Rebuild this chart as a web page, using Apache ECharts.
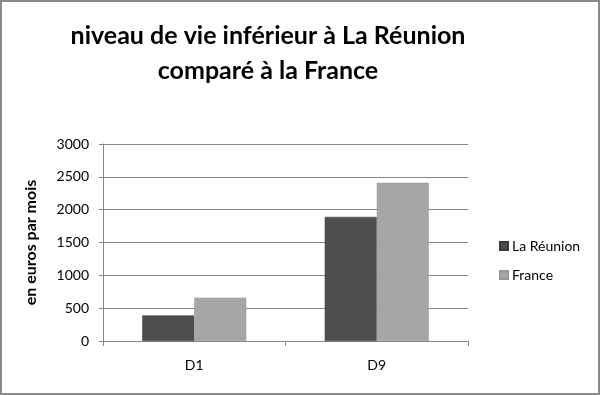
<!DOCTYPE html>
<html><head><meta charset="utf-8">
<script src="https://cdn.jsdelivr.net/npm/echarts@6/dist/echarts.min.js"></script>
<style>html,body{margin:0;padding:0;background:#fff}#c{width:600px;height:395px;box-sizing:border-box;border:2px solid #8a8a8a}</style>
</head><body><div id="c"></div>
<script>
const categories = ['D1', 'D9'];
const reunion = [390, 1890];
const france = [660, 2410];
const seriesNames = ['La Réunion', 'France'];
const titleText = 'niveau de vie inférieur à La Réunion\ncomparé à la France';
const yAxisName = 'en euros par mois';

const chart = echarts.init(document.getElementById('c'), null, {renderer: 'canvas'});
const font = 'Lato';
chart.setOption({
  animation: false,
  backgroundColor: '#fff',
  title: {
    text: titleText, left: 261, textAlign: 'center', top: 11,
    textStyle: {fontFamily: font, fontWeight: 'bold', fontSize: 25, lineHeight: 35, color: '#000'}
  },
  legend: {
    orient: 'vertical', left: 492, top: 232, itemGap: 15,
    itemWidth: 8, itemHeight: 8, icon: 'rect',
    textStyle: {fontFamily: font, fontSize: 14, color: '#000', padding: [0, 0, 0, -1]},
    data: seriesNames
  },
  grid: {left: 101, right: 130, top: 142, bottom: 52, containLabel: false},
  xAxis: {
    type: 'category', data: categories,
    axisLine: {lineStyle: {color: '#868686'}},
    axisTick: {show: true, length: 5, lineStyle: {color: '#868686'}},
    axisLabel: {fontFamily: font, fontSize: 14, color: '#000', margin: 17}
  },
  yAxis: {
    type: 'value', min: 0, max: 3000, interval: 500,
    name: yAxisName, nameLocation: 'middle', nameGap: 64, nameRotate: 90,
    nameTextStyle: {fontFamily: font, fontSize: 16, fontWeight: 'bold', color: '#000'},
    axisLine: {show: true, lineStyle: {color: '#868686'}},
    axisTick: {show: true, length: 4, lineStyle: {color: '#868686'}},
    axisLabel: {fontFamily: font, fontSize: 14, color: '#000', margin: 14, formatter: v => String(v)},
    splitLine: {lineStyle: {color: '#868686', width: 1}}
  },
  series: [
    {name: seriesNames[0], type: 'bar', data: reunion, barGap: '0%', barCategoryGap: '43%',
     itemStyle: {color: '#4f4f4f', borderColor: '#3a3a3a', borderWidth: 0.5}},
    {name: seriesNames[1], type: 'bar', data: france, barGap: '0%', barCategoryGap: '43%',
     itemStyle: {color: '#a6a6a6', borderColor: '#999', borderWidth: 0.5}}
  ]
});
</script></body></html>
